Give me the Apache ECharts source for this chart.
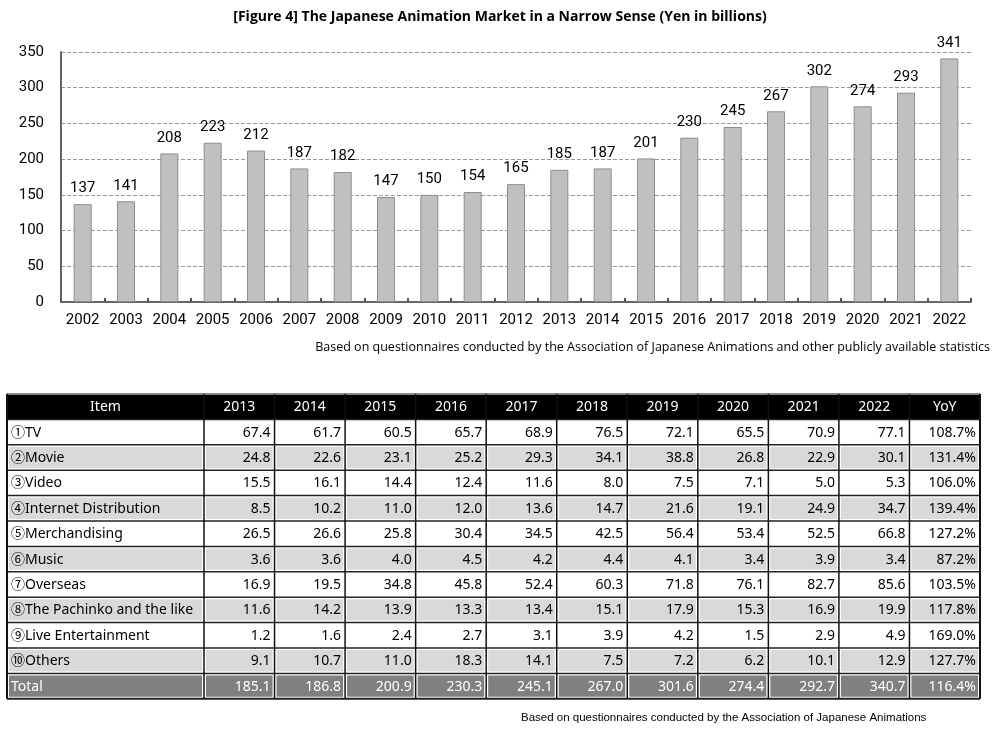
<!DOCTYPE html>
<html><head><meta charset="utf-8">
<script src="https://cdn.jsdelivr.net/npm/echarts@6/dist/echarts.min.js"></script>
<style>html,body{margin:0;padding:0;background:#fff}#c{width:1000px;height:737px}</style>
</head><body><div id="c"></div>
<script>
const barYears = ['2002','2003','2004','2005','2006','2007','2008','2009','2010','2011','2012','2013','2014','2015','2016','2017','2018','2019','2020','2021','2022'];
const barValues = [137,141,208,223,212,187,182,147,150,154,165,185,187,201,230,245,267,302,274,293,341];
const yTicks = [0,50,100,150,200,250,300,350];

const tableYears = ['2013','2014','2015','2016','2017','2018','2019','2020','2021','2022'];
const items = ['①TV','②Movie','③Video','④Internet Distribution','⑤Merchandising','⑥Music','⑦Overseas','⑧The Pachinko and the like','⑨Live Entertainment','⑩Others'];
const tv = ['67.4','61.7','60.5','65.7','68.9','76.5','72.1','65.5','70.9','77.1'];
const movie = ['24.8','22.6','23.1','25.2','29.3','34.1','38.8','26.8','22.9','30.1'];
const video = ['15.5','16.1','14.4','12.4','11.6','8.0','7.5','7.1','5.0','5.3'];
const internet = ['8.5','10.2','11.0','12.0','13.6','14.7','21.6','19.1','24.9','34.7'];
const merch = ['26.5','26.6','25.8','30.4','34.5','42.5','56.4','53.4','52.5','66.8'];
const music = ['3.6','3.6','4.0','4.5','4.2','4.4','4.1','3.4','3.9','3.4'];
const overseas = ['16.9','19.5','34.8','45.8','52.4','60.3','71.8','76.1','82.7','85.6'];
const pachinko = ['11.6','14.2','13.9','13.3','13.4','15.1','17.9','15.3','16.9','19.9'];
const live = ['1.2','1.6','2.4','2.7','3.1','3.9','4.2','1.5','2.9','4.9'];
const others = ['9.1','10.7','11.0','18.3','14.1','7.5','7.2','6.2','10.1','12.9'];
const totals = ['185.1','186.8','200.9','230.3','245.1','267.0','301.6','274.4','292.7','340.7'];
const yoy = ['108.7%','131.4%','106.0%','139.4%','127.2%','87.2%','103.5%','117.8%','169.0%','127.7%'];
const yoyTotal = '116.4%';
const itemRows = [tv,movie,video,internet,merch,music,overseas,pachinko,live,others];

const narrow = 'Roboto,sans-serif';
const tfont = '"Noto Sans","Noto Sans CJK JP",sans-serif';

// table layout
const tLeft = 7, tRight = 980, tTop = 394, rowH = 25.4, itemW = 197;
const nCols = tableYears.length + 1;
const colW = (tRight - tLeft - itemW) / nCols;
const colX = [tLeft, tLeft + itemW];
for (let i = 1; i <= nCols; i++) colX.push(tLeft + itemW + i * colW);

const header = ['Item'].concat(tableYears, ['YoY']);
const rows = [header];
items.forEach((it, i) => rows.push([it].concat(itemRows[i], [yoy[i]])));
rows.push(['Total'].concat(totals, [yoyTotal]));

const g = [];
rows.forEach((row, r) => {
  const y = tTop + r * rowH;
  let fill = (r === 0) ? '#000' : (r === rows.length - 1 ? '#808080' : (r % 2 === 0 ? '#d9d9d9' : '#fff'));
  let color = (r === 0 || r === rows.length - 1) ? '#fff' : '#000';
  row.forEach((cell, c) => {
    const x0 = colX[c], x1 = colX[c + 1];
    if (r !== 0) {
      g.push({type:'rect', shape:{x:x0+2, y:y+2, width:x1-x0-4, height:rowH-4}, style:{fill:fill}, silent:true, z:1});
    }
    let tx, align;
    if (r === 0) { tx = (x0 + x1) / 2; align = 'center'; }
    else if (c === 0) { tx = x0 + 4; align = 'left'; }
    else { tx = x1 - 4; align = 'right'; }
    g.push({type:'text', x:tx, y:y + rowH/2 + 0.5, style:{text:cell, fill:color, font:'14px ' + tfont, align:align, verticalAlign:'middle'}, silent:true, z:3});
  });
});
g.push({type:'rect', shape:{x:tLeft, y:tTop, width:tRight-tLeft, height:rowH}, style:{fill:'#000'}, silent:true, z:0});
for (let r = 0; r <= rows.length; r++) {
  const y = tTop + r * rowH;
  g.push({type:'line', shape:{x1:tLeft, y1:y, x2:tRight, y2:y}, style:{stroke: r===0 ? '#888' : '#222', lineWidth: (r===0||r===rows.length)?2:1.5}, silent:true, z:2});
}
colX.forEach((x, i) => {
  g.push({type:'line', shape:{x1:x, y1:tTop, x2:x, y2:tTop + rows.length*rowH}, style:{stroke:'#111', lineWidth:(i===0||i===colX.length-1)?2:1.5}, silent:true, z:2});
});
g.push({type:'text', right: 10, top: 341, style:{text:'Based on questionnaires conducted by the Association of Japanese Animations and other publicly available statistics', fill:'#000', font:'12.5px "Open Sans",sans-serif'}, silent:true});
g.push({type:'text', left: 521, top: 712, style:{text:'Based on questionnaires conducted by the Association of Japanese Animations', fill:'#000', font:'11.5px "Liberation Sans",Arial,sans-serif'}, silent:true});

const chart = echarts.init(document.getElementById('c'), null, {renderer:'canvas'});
chart.setOption({
  animation: false,
  backgroundColor: '#fff',
  title: {text:'[Figure 4] The Japanese Animation Market in a Narrow Sense (Yen in billions)', left:'center', top:5,
    textStyle:{fontSize:14, fontWeight:'bold', fontFamily:'"Open Sans",sans-serif', color:'#000'}},
  grid: {left:61, right:29, top:52, bottom:435, containLabel:false},
  xAxis: {type:'category', data:barYears,
    axisLine:{lineStyle:{color:'#666', width:2}},
    axisTick:{show:true, inside:true, length:4, lineStyle:{color:'#555', width:2}},
    axisLabel:{color:'#000', fontSize:15, fontFamily:narrow, margin:11, interval:0}},
  yAxis: {type:'value', min:0, max:350, interval:50,
    axisLine:{show:true, lineStyle:{color:'#666', width:2}},
    axisTick:{show:false},
    axisLabel:{color:'#000', fontSize:15, fontFamily:narrow, margin:17, formatter:v => yTicks.includes(v) ? String(v) : ''},
    splitLine:{lineStyle:{color:'#999', type:'dashed', width:1}}},
  series: [{type:'bar', data:barValues, barWidth:18,
    itemStyle:{color:'#c0c0c0', borderColor:'#8c8c8c', borderWidth:1},
    label:{show:true, position:'top', distance:8, color:'#000', fontSize:15, fontFamily:narrow}}],
  graphic: g
});
</script></body></html>
